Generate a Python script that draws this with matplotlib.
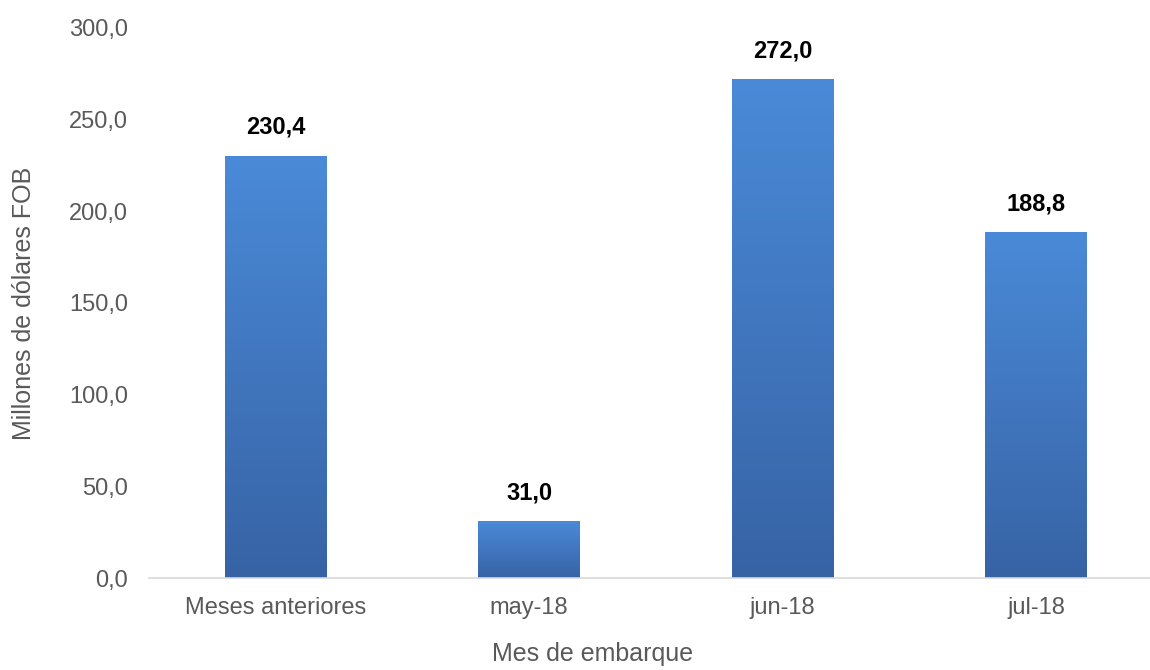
import matplotlib.pyplot as plt
import numpy as np
from matplotlib.colors import LinearSegmentedColormap

plt.rcParams['font.family'] = ['Liberation Sans', 'DejaVu Sans']

categories = ['Meses anteriores', 'may-18', 'jun-18', 'jul-18']
values = [230.4, 31.0, 272.0, 188.8]
yticks = [0, 50, 100, 150, 200, 250, 300]

fig = plt.figure(figsize=(11.5, 6.7), dpi=100)
ax = fig.add_axes([0.1296, 0.1373, 0.8704, 0.821])

grad = LinearSegmentedColormap.from_list('g', ['#3763a5', '#4a8ad8'])
width = 0.4
x = np.arange(len(categories))
bars = ax.bar(x, values, width=width, color='none', edgecolor='none')
for b in bars:
    x0, y0 = b.get_x(), b.get_y()
    h = b.get_height()
    im = ax.imshow(np.linspace(0, 1, 256).reshape(-1, 1), cmap=grad,
                   aspect='auto', origin='lower',
                   extent=[x0, x0 + b.get_width(), y0, y0 + h], zorder=2)
    im.set_clip_path(b)

for xi, v in zip(x, values):
    ax.annotate(f'{v:.1f}'.replace('.', ','), (xi, v), xytext=(0, 12),
                textcoords='offset points', ha='center', va='bottom',
                fontsize=17, fontweight='bold', color='black')

ax.set_xlim(-0.5, 3.45)
ax.set_ylim(0, 300)
ax.set_yticks(yticks)
ax.set_yticklabels([f'{t:.1f}'.replace('.', ',') for t in yticks])
ax.set_xticks(x)
ax.set_xticklabels(categories)
ax.tick_params(axis='both', length=0, labelsize=17, colors='#595959')
ax.tick_params(axis='x', pad=14)
ax.tick_params(axis='y', pad=15)
for s in ['top', 'right', 'left']:
    ax.spines[s].set_visible(False)
ax.spines['bottom'].set_color('#d9d9d9')
ax.spines['bottom'].set_linewidth(1.2)

ax.set_xlabel('Mes de embarque', fontsize=18, color='#595959')
ax.xaxis.set_label_coords(0.4426, -0.117)
ax.set_ylabel('Millones de dólares FOB', fontsize=18, color='#595959', labelpad=24)

fig.savefig('out.png', dpi=100)
